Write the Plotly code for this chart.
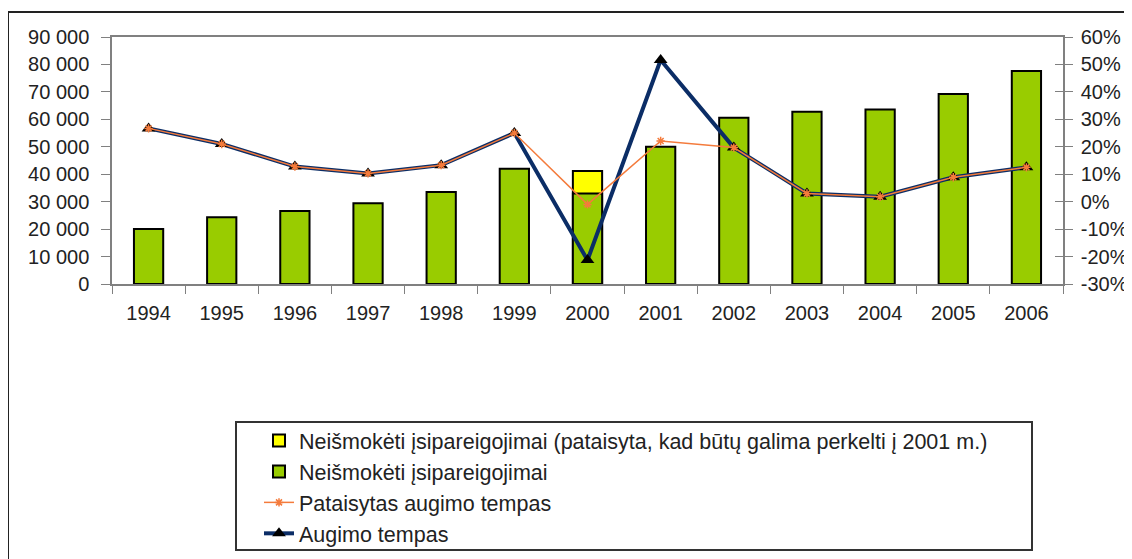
import plotly.graph_objects as go

years = ["1994", "1995", "1996", "1997", "1998", "1999", "2000",
         "2001", "2002", "2003", "2004", "2005", "2006"]
outstanding = [20000, 24300, 26600, 29400, 33500, 42000, 33000,
               50000, 60600, 62800, 63600, 69200, 77600]
outstanding_adjusted = [None, None, None, None, None, None, 41200,
                        None, None, None, None, None, None]
growth = [0.267, 0.210, 0.128, 0.103, 0.133, 0.250, -0.213,
          0.516, 0.197, 0.030, 0.018, 0.089, 0.125]
growth_adjusted = [0.267, 0.210, 0.128, 0.103, 0.133, 0.250, -0.010,
                   0.221, 0.197, 0.030, 0.018, 0.089, 0.125]
pct_ticks = [-0.3, -0.2, -0.1, 0.0, 0.1, 0.2, 0.3, 0.4, 0.5, 0.6]
pct_labels = ["-30%", "-20%", "-10%", "0%", "10%", "20%", "30%", "40%", "50%", "60%"]

names = ["Neišmokėti įsipareigojimai (pataisyta, kad būtų galima perkelti į 2001 m.)",
         "Neišmokėti įsipareigojimai",
         "Pataisytas augimo tempas",
         "Augimo tempas"]

# page is offset by the 8px body margin; work in page coordinates
OFF = 8
PAGE_W, PAGE_H = 1132, 559
W, H = PAGE_W - OFF, PAGE_H - OFF
L, R, T, B = 112, 1063, 37, 284          # plot area in page pixels
PW, PH = R - L, B - T


def px(x):
    return (x - L) / PW


def py(y):
    return (B - y) / PH


FONT = "Liberation Sans, Arial, sans-serif"
TXT = "#222222"
AX = "#808080"

fig = go.Figure()
fig.add_trace(go.Bar(x=years, y=outstanding_adjusted, name=names[0],
                     marker=dict(color="#FFFF00", line=dict(color="#000000", width=2)),
                     width=0.4, legendrank=1))
fig.add_trace(go.Bar(x=years, y=outstanding, name=names[1],
                     marker=dict(color="#99CC00", line=dict(color="#000000", width=2)),
                     width=0.4, legendrank=2))
fig.add_trace(go.Scatter(x=years, y=growth, name=names[3], yaxis="y2",
                         mode="lines+markers",
                         line=dict(color="#0B2D66", width=4),
                         marker=dict(symbol="triangle-up", size=12, color="#000000"),
                         legendrank=4))
fig.add_trace(go.Scatter(x=years, y=growth_adjusted, name=names[2], yaxis="y2",
                         mode="lines+markers",
                         line=dict(color="#F47B3C", width=1.5),
                         marker=dict(symbol="asterisk-open", size=7,
                                     line=dict(color="#F47B3C", width=1.5)),
                         legendrank=3))
# helper trace for the inner half of the right-axis cross ticks
fig.add_trace(go.Scatter(x=[years[0]], y=[None], yaxis="y3", showlegend=False,
                         hoverinfo="skip"))

fig.update_layout(
    width=W, height=H,
    margin=dict(l=L - OFF, r=PAGE_W - R, t=T - OFF, b=PAGE_H - B, autoexpand=False),
    paper_bgcolor="white", plot_bgcolor="white",
    barmode="overlay",
    separators=", ",
    font=dict(family=FONT, size=20, color=TXT),
    showlegend=True,
    legend=dict(x=px(259), y=py(420), xanchor="left", yanchor="top",
                bgcolor="rgba(0,0,0,0)", borderwidth=0,
                font=dict(family=FONT, size=21.5, color=TXT),
                traceorder="normal"),
    xaxis=dict(type="category", range=[-0.5, len(years) - 0.5],
               showgrid=False, showline=True, linecolor=AX,
               linewidth=1.5, mirror=True, ticks="outside", tickson="boundaries",
               ticklen=8, tickcolor=AX, tickwidth=1.2, ticklabelstandoff=10,
               tickfont=dict(size=20, color=TXT)),
    yaxis=dict(range=[0, 90000], dtick=10000, tickformat=",d", showgrid=False,
               zeroline=False, showline=True, linecolor=AX, linewidth=1.5,
               ticks="outside", ticklen=9, tickcolor=AX, tickwidth=1.2,
               ticklabelstandoff=8, tickfont=dict(size=20, color=TXT)),
    yaxis2=dict(range=[-0.3, 0.6], tickmode="array", tickvals=pct_ticks,
                ticktext=pct_labels, overlaying="y",
                side="right", showgrid=False, zeroline=False, showline=True,
                linecolor=AX, linewidth=1.5, ticks="outside", ticklen=8,
                tickcolor=AX, tickwidth=1.2, ticklabelstandoff=4,
                tickfont=dict(size=20, color=TXT)),
    yaxis3=dict(range=[-0.3, 0.6], tickmode="array", tickvals=pct_ticks,
                overlaying="y", side="right",
                showgrid=False, zeroline=False, showline=False, ticks="inside",
                ticklen=8, tickcolor=AX, tickwidth=1.2, showticklabels=False),
    shapes=[
        dict(type="rect", xref="paper", yref="paper", x0=px(8), x1=px(1130),
             y0=py(620), y1=py(12), line=dict(color="#222222", width=2),
             fillcolor="rgba(0,0,0,0)", layer="above"),
        dict(type="rect", xref="paper", yref="paper", x0=px(236), x1=px(1032),
             y0=py(550), y1=py(422), line=dict(color="#333333", width=2),
             fillcolor="rgba(0,0,0,0)", layer="above"),
    ],
)

fig.write_html("out.html")
